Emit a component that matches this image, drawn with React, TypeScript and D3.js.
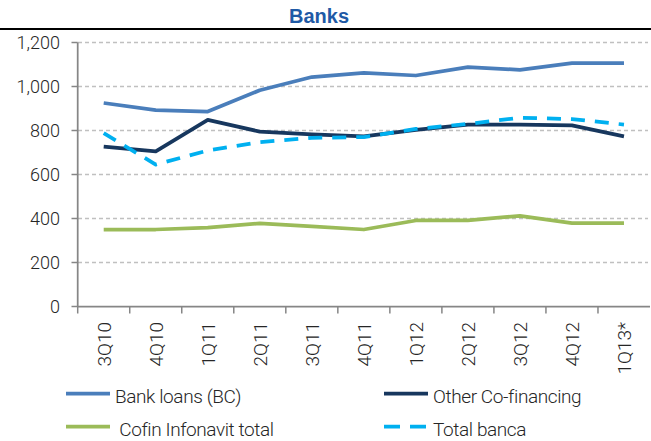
import { useEffect, useRef } from "react"
import * as d3 from "d3"

const categories = ["3Q10", "4Q10", "1Q11", "2Q11", "3Q11", "4Q11", "1Q12", "2Q12", "3Q12", "4Q12", "1Q13*"]
const bankLoans = [925, 893, 886, 983, 1043, 1062, 1050, 1088, 1076, 1106, 1106]
const otherCofin = [727, 705, 848, 795, 782, 773, 803, 827, 827, 823, 773]
const cofinInfonavit = [350, 350, 358, 378, 364, 350, 391, 391, 412, 379, 379]
const totalBanca = [788, 645, 709, 747, 767, 770, 807, 830, 858, 852, 827]
const yTicks = [0, 200, 400, 600, 800, 1000, 1200]

const seriesNames = ["Bank loans (BC)", "Other Co-financing", " Cofin Infonavit total", "Total banca"]
const seriesColors = ["#4a7ebb", "#17375e", "#9bbb59", "#00b0f0"]

export default function App() {
  const svgRef = useRef<SVGSVGElement>(null)

  useEffect(() => {
    if (!svgRef.current) return
    const W = 651
    const H = 441
    const svg = d3.select(svgRef.current)
    svg.selectAll("*").remove()
    svg.attr("width", W).attr("height", H)

    const font = "Roboto, 'Open Sans', sans-serif"
    const textColor = "#262626"
    const axisColor = "#868686"

    const x = d3.scaleBand().domain(categories).range([77.7, 650]).padding(0)
    const y = d3.scaleLinear().domain([0, 1200]).range([306.5, 42.5])
    const cx = (c: string) => (x(c) ?? 0) + x.bandwidth() / 2

    // Title and rule
    svg.append("text")
      .attr("x", 319)
      .attr("y", 23)
      .attr("text-anchor", "middle")
      .style("font-family", "'Liberation Sans', Arial, sans-serif")
      .style("font-weight", "bold")
      .style("font-size", "20px")
      .style("fill", "#1f5aa6")
      .text("Banks")
    svg.append("line")
      .attr("x1", 0).attr("x2", W)
      .attr("y1", 29).attr("y2", 29)
      .attr("stroke", "#000").attr("stroke-width", 2)

    // Grid lines
    svg.append("g")
      .selectAll("line")
      .data(yTicks.filter((d) => d > 0))
      .join("line")
      .attr("x1", 78).attr("x2", 648)
      .attr("y1", (d) => y(d)).attr("y2", (d) => y(d))
      .attr("stroke", "#c0c0c0")
      .attr("stroke-width", 1.3)
      .attr("stroke-dasharray", "4,3")

    // Y axis
    svg.append("line")
      .attr("x1", 77.7).attr("x2", 77.7)
      .attr("y1", y(1200)).attr("y2", y(0))
      .attr("stroke", axisColor).attr("stroke-width", 1.75)
    const yt = svg.append("g").selectAll("g").data(yTicks).join("g")
    yt.append("line")
      .attr("x1", 71.5).attr("x2", 77.7)
      .attr("y1", (d) => y(d)).attr("y2", (d) => y(d))
      .attr("stroke", axisColor).attr("stroke-width", 1.5)
    yt.append("text")
      .attr("x", 60)
      .attr("y", (d) => y(d))
      .attr("dy", "0.36em")
      .attr("text-anchor", "end")
      .style("font-family", font)
      .style("font-weight", 300)
      .style("font-size", "18px")
      .style("fill", textColor)
      .text((d) => d3.format(",")(d))

    // X axis
    svg.append("line")
      .attr("x1", 77).attr("x2", 650)
      .attr("y1", y(0)).attr("y2", y(0))
      .attr("stroke", axisColor).attr("stroke-width", 1.75)
    svg.append("g")
      .selectAll("line")
      .data(categories)
      .join("line")
      .attr("x1", (d) => x(d) ?? 0).attr("x2", (d) => x(d) ?? 0)
      .attr("y1", y(0)).attr("y2", y(0) + 7)
      .attr("stroke", axisColor).attr("stroke-width", 1.5)
    svg.append("g")
      .selectAll("text")
      .data(categories)
      .join("text")
      .attr("transform", (d) => `translate(${cx(d)},322) rotate(-90)`)
      .attr("dy", "0.36em")
      .attr("text-anchor", "end")
      .style("font-family", font)
      .style("font-weight", 300)
      .style("font-size", "19px")
      .style("fill", textColor)
      .text((d) => d)

    // Lines
    const seriesData = [bankLoans, otherCofin, cofinInfonavit, totalBanca]
    const line = d3.line<number>()
      .x((_, i) => cx(categories[i]))
      .y((d) => y(d))
    const drawOrder = [0, 2, 1, 3]
    drawOrder.forEach((s) => {
      svg.append("path")
        .datum(seriesData[s])
        .attr("d", line)
        .attr("fill", "none")
        .attr("stroke", seriesColors[s])
        .attr("stroke-width", 3.75)
        .attr("stroke-linejoin", "round")
        .attr("stroke-dasharray", s === 3 ? "14,10" : null)
    })

    // Legend
    const legendPos = [
      { x: 66, y: 393.5 },
      { x: 384, y: 393.5 },
      { x: 66, y: 426.7 },
      { x: 384, y: 426.7 },
    ]
    seriesNames.forEach((name, s) => {
      const p = legendPos[s]
      const lg = svg.append("g").attr("transform", `translate(${p.x},${p.y})`)
      lg.append("line")
        .attr("x1", 0).attr("x2", 44)
        .attr("y1", 0).attr("y2", 0)
        .attr("stroke", seriesColors[s])
        .attr("stroke-width", 3.75)
        .attr("stroke-dasharray", s === 3 ? "16,10" : null)
      lg.append("text")
        .attr("x", 49)
        .attr("y", 9.5)
        .style("font-family", font)
        .style("font-weight", 300)
        .style("font-size", "19px")
        .style("letter-spacing", "-0.4px")
        .style("white-space", "pre")
        .style("fill", textColor)
        .text(name)
    })
  }, [])

  return (
    <div style={{ position: "absolute", left: 0, top: 0 }}>
      <svg ref={svgRef} style={{ display: "block" }} />
    </div>
  )
}
